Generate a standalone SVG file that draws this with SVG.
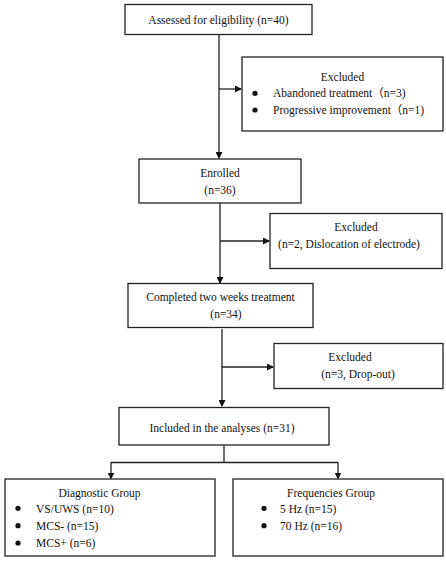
<svg xmlns="http://www.w3.org/2000/svg" width="446" height="562" viewBox="0 0 446 562">
<defs>
<style>
.box{fill:#fff;stroke:#222;stroke-width:1.3}
.ln{fill:none;stroke:#222;stroke-width:1.3}
text{font-family:"Liberation Serif","Noto Sans CJK SC",serif;font-size:11.5px;fill:#111}
.c{text-anchor:middle}
.dot{fill:#111}
</style>
<marker id="ah" markerWidth="7" markerHeight="7" refX="6" refY="3.5" orient="auto" markerUnits="userSpaceOnUse">
<path d="M0,0 L7,3.5 L0,7 Z" fill="#111"/>
</marker>
</defs>
<rect width="446" height="562" fill="#fff"/>
<g id="connectors">
<path class="ln" d="M219,34.5 V158" marker-end="url(#ah)"/>
<path class="ln" d="M219,89 H241" marker-end="url(#ah)"/>
<path class="ln" d="M220,203 V283" marker-end="url(#ah)"/>
<path class="ln" d="M220,241 H269" marker-end="url(#ah)"/>
<path class="ln" d="M222,329 V406" marker-end="url(#ah)"/>
<path class="ln" d="M222,367 H273" marker-end="url(#ah)"/>
<path class="ln" d="M224,445 V462.5 M111,462.5 H338"/>
<path class="ln" d="M111,462 V478.5" marker-end="url(#ah)"/>
<path class="ln" d="M338,462 V478.5" marker-end="url(#ah)"/>
</g>
<g id="assessed">
<rect class="box" x="125" y="4.5" width="187" height="30"/>
<text class="c" x="218.5" y="24">Assessed for eligibility (n=40)</text>
</g>
<g id="excluded1">
<rect class="box" x="242" y="57" width="201" height="74"/>
<text class="c" x="342.5" y="81">Excluded</text>
<circle class="dot" cx="255" cy="93.3" r="2.6"/>
<text x="273" y="97">Abandoned treatment（n=3)</text>
<circle class="dot" cx="255" cy="110" r="2.6"/>
<text x="273" y="114">Progressive improvement（n=1)</text>
</g>
<g id="enrolled">
<rect class="box" x="139" y="159" width="162" height="44"/>
<text class="c" x="220" y="177">Enrolled</text>
<text class="c" x="220" y="194">(n=36)</text>
</g>
<g id="excluded2">
<rect class="box" x="270" y="213.5" width="172" height="55"/>
<text class="c" x="356" y="231">Excluded</text>
<text class="c" x="349" y="248">(n=2, Dislocation of electrode)</text>
</g>
<g id="completed">
<rect class="box" x="128" y="283.5" width="185" height="44"/>
<text class="c" x="220.5" y="301">Completed two weeks treatment</text>
<text class="c" x="226" y="317.5">(n=34)</text>
</g>
<g id="excluded3">
<rect class="box" x="274" y="343.5" width="169" height="45"/>
<text class="c" x="350" y="361">Excluded</text>
<text class="c" x="358" y="377.5">(n=3, Drop-out)</text>
</g>
<g id="included">
<rect class="box" x="119" y="407.5" width="210" height="37.5"/>
<text class="c" x="222" y="431.5">Included in the analyses (n=31)</text>
</g>
<g id="diagnostic">
<rect class="box" x="5" y="479" width="210" height="77"/>
<text class="c" x="99.5" y="497">Diagnostic Group</text>
<circle class="dot" cx="18" cy="508.3" r="2.6"/>
<text x="36" y="512.5">VS/UWS (n=10)</text>
<circle class="dot" cx="18" cy="525.7" r="2.6"/>
<text x="36" y="530">MCS- (n=15)</text>
<circle class="dot" cx="18" cy="543" r="2.6"/>
<text x="36" y="547">MCS+ (n=6)</text>
</g>
<g id="frequencies">
<rect class="box" x="233" y="479" width="210" height="77"/>
<text class="c" x="331" y="497">Frequencies Group</text>
<circle class="dot" cx="264" cy="508.3" r="2.6"/>
<text x="280" y="512.5">5 Hz (n=15)</text>
<circle class="dot" cx="264" cy="525.7" r="2.6"/>
<text x="280" y="530">70 Hz (n=16)</text>
</g>
</svg>
